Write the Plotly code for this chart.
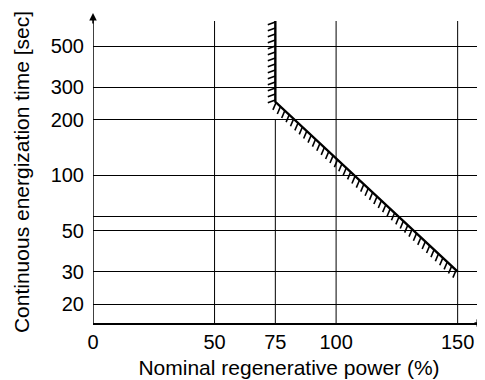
import math
import plotly.graph_objects as go

# ---- data ----
power_pct = [75, 75, 150]          # nominal regenerative power (%)
time_sec = [685, 250, 30]          # continuous energization time [sec]
x_ticks = [0, 50, 75, 100, 150]
x_grid_full = [50, 100, 150]
x_grid_partial = 75
x_grid_partial_top = 200
y_ticks = [20, 30, 50, 60, 100, 200, 300, 500]
y_tick_text = ["20", "30", "50", "", "100", "200", "300", "500"]

# ---- layout geometry (page body has an 8px margin) ----
W_FIG, H_FIG = 477, 372
ML, MR, MT, MB = 85, 0, 13, 57
PW = W_FIG - ML - MR
PH = H_FIG - MT - MB
X_RANGE = [0, PW / 2.431]
Y_RANGE = [1.1991, 2.836]  # log10

def xpix(v):
    return ML + (v - X_RANGE[0]) / (X_RANGE[1] - X_RANGE[0]) * PW

def ypix(v):
    return MT + PH * (1 - (math.log10(v) - Y_RANGE[0]) / (Y_RANGE[1] - Y_RANGE[0]))

def xval(p):
    return X_RANGE[0] + (p - ML) / PW * (X_RANGE[1] - X_RANGE[0])

def yval(p):
    return 10 ** (Y_RANGE[0] + (1 - (p - MT) / PH) * (Y_RANGE[1] - Y_RANGE[0]))

# hatch marks along the limit line (computed in pixel space)
SPACING = 6.0
HATCH_LEN = 8.0
ROT = math.radians(70)
hx, hy = [], []
pts = [(xpix(a), ypix(b)) for a, b in zip(power_pct, time_sec)]
for (x0, y0), (x1, y1) in zip(pts[:-1], pts[1:]):
    L = math.hypot(x1 - x0, y1 - y0)
    ux, uy = (x1 - x0) / L, (y1 - y0) / L
    hxd = ux * math.cos(ROT) - uy * math.sin(ROT)
    hyd = ux * math.sin(ROT) + uy * math.cos(ROT)
    n = int(L // SPACING)
    for i in range(n + 1):
        px, py = x0 + ux * i * SPACING + ux, y0 + uy * i * SPACING + uy
        ex, ey = px + hxd * HATCH_LEN, py + hyd * HATCH_LEN
        hx += [xval(px), xval(ex), None]
        hy += [yval(py), yval(ey), None]

FONT = "Liberation Sans, Arial, sans-serif"

fig = go.Figure()
fig.add_trace(go.Scatter(x=hx, y=hy, mode="lines",
                         line=dict(color="black", width=1.6),
                         hoverinfo="skip", showlegend=False))
fig.add_trace(go.Scatter(x=power_pct, y=time_sec, mode="lines",
                         line=dict(color="black", width=2.4),
                         showlegend=False))

shapes = []
for v in x_grid_full:
    shapes.append(dict(type="line", xref="x", yref="paper", x0=v, x1=v, y0=0, y1=1,
                       line=dict(color="black", width=1), layer="below"))
shapes.append(dict(type="line", xref="x", yref="y", x0=x_grid_partial, x1=x_grid_partial,
                   y0=10 ** Y_RANGE[0], y1=x_grid_partial_top,
                   line=dict(color="black", width=1), layer="below"))
# y axis line extended above the plot to the arrow
shapes.append(dict(type="line", xref="x", yref="paper", x0=0, x1=0, y0=0, y1=1 + 3 / PH,
                   line=dict(color="black", width=1.5)))

annotations = [
    dict(xref="x", yref="paper", x=0, y=1 + 8 / PH, ax=0, ay=12,
         axref="pixel", ayref="pixel", text="", showarrow=True,
         arrowhead=2, arrowsize=1, arrowwidth=1.5, arrowcolor="black"),
    dict(xref="paper", yref="paper", x=1, y=0, ax=-12, ay=0,
         axref="pixel", ayref="pixel", text="", showarrow=True,
         arrowhead=2, arrowsize=1, arrowwidth=1.5, arrowcolor="black"),
]

fig.update_layout(
    width=W_FIG, height=H_FIG,
    margin=dict(l=ML, r=MR, t=MT, b=MB),
    paper_bgcolor="white", plot_bgcolor="white",
    font=dict(family=FONT, color="black", size=20),
    shapes=shapes, annotations=annotations,
    xaxis=dict(range=X_RANGE, tickvals=x_ticks, showgrid=False, zeroline=False,
               showline=True, linecolor="black", linewidth=1.6, ticks="", ticklen=0,
               ticklabelstandoff=0, automargin=False,
               tickfont=dict(size=20),
               title=dict(text="Nominal regenerative power (%)", font=dict(size=21), standoff=9)),
    yaxis=dict(type="log", range=Y_RANGE, tickvals=y_ticks, ticktext=y_tick_text,
               showgrid=True, gridcolor="black", gridwidth=1, zeroline=False,
               showline=False, ticks="", ticklen=0, ticklabelstandoff=8, automargin=False,
               tickfont=dict(size=20),
               title=dict(text="Continuous energization time [sec]", font=dict(size=21), standoff=15)),
)

fig.write_html("out.html")
